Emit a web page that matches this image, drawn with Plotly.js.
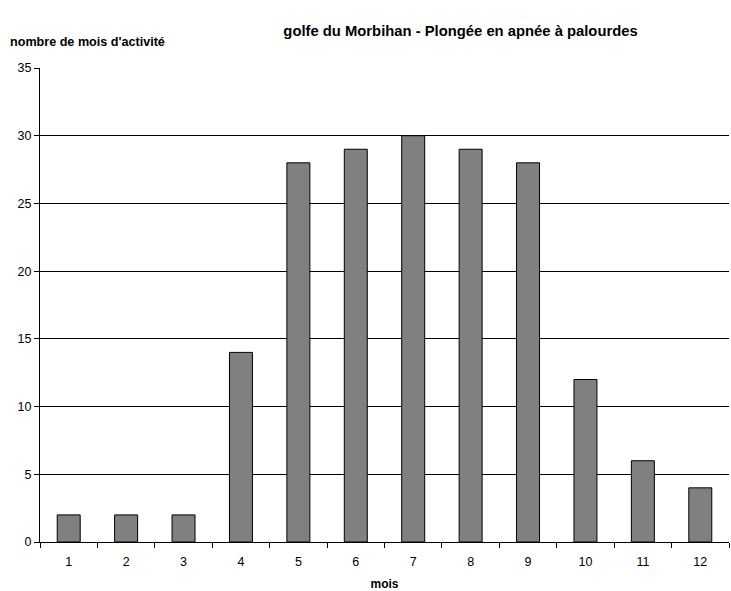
<!DOCTYPE html>
<html>
<head>
<meta charset="utf-8">
<script src="https://cdn.plot.ly/plotly-3.0.1.min.js"></script>
<style>body{margin:0;padding:0;background:#fff}#chart{width:731px;height:591px}</style>
</head>
<body>
<div id="chart"></div>
<script>
const months = ["1","2","3","4","5","6","7","8","9","10","11","12"];
const values = [2,2,2,14,28,29,30,29,28,12,6,4];
const chartTitle = "golfe du Morbihan - Plongée en apnée à palourdes";
const yTitle = "nombre de mois d'activité";
const xTitle = "mois";

const font = "Liberation Sans, Arial, sans-serif";
Plotly.newPlot("chart", [{
  type: "bar",
  x: months,
  y: values,
  marker: {color: "#808080", line: {color: "#000000", width: 1}},
  hoverinfo: "x+y"
}], {
  width: 731, height: 591,
  margin: {l: 40, r: 2, t: 68, b: 49},
  paper_bgcolor: "#ffffff", plot_bgcolor: "#ffffff",
  bargap: 0.6,
  showlegend: false,
  font: {family: font, size: 12.5, color: "#000000"},
  title: {text: "<b>" + chartTitle + "</b>", x: 0.63, xanchor: "center", y: 0.9475, yanchor: "middle",
          font: {family: font, size: 14.8, color: "#000000"}},
  xaxis: {
    type: "category",
    tickson: "boundaries",
    ticks: "outside", ticklen: 5, tickcolor: "#000", tickwidth: 1,
    ticklabelstandoff: 8,
    showline: true, linecolor: "#000", linewidth: 1,
    showgrid: false, zeroline: false,
    tickfont: {family: font, size: 12.5, color: "#000"},
    title: {text: "<b>" + xTitle + "</b>", font: {family: font, size: 12, color: "#000"}, standoff: 14}
  },
  yaxis: {
    range: [0, 35], dtick: 5,
    ticks: "outside", ticklen: 5, tickcolor: "#000", tickwidth: 1,
    showline: true, linecolor: "#000", linewidth: 1,
    showgrid: true, gridcolor: "#000", gridwidth: 1,
    zeroline: false,
    tickfont: {family: font, size: 12.5, color: "#000"}
  },
  annotations: [{
    text: "<b>" + yTitle + "</b>", xref: "paper", yref: "paper",
    x: -0.047, y: 1.055, xanchor: "left", yanchor: "middle", showarrow: false,
    font: {family: font, size: 12.6, color: "#000"}
  }]
}, {displayModeBar: false, staticPlot: true});
</script>
</body>
</html>
